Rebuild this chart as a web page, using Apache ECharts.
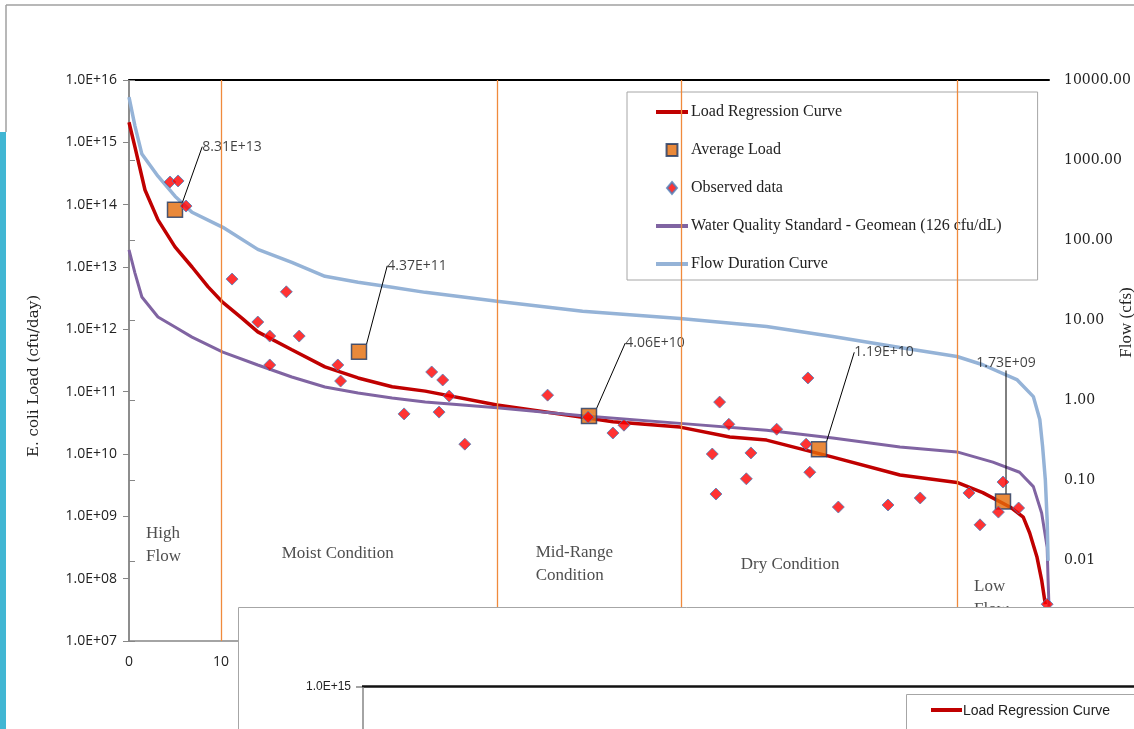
<!DOCTYPE html>
<html>
<head>
<meta charset="utf-8">
<script src="https://cdn.jsdelivr.net/npm/echarts@6/dist/echarts.min.js"></script>
<style>
  html, body { margin: 0; padding: 0; background: #fff; }
  #chart { width: 1134px; height: 729px; }
</style>
</head>
<body>
<div id="chart"></div>
<script>
// ---------------- data ----------------
const xRegression = [0, 0.65, 1.74, 3.15, 5.0, 6.85, 8.6, 10.2, 12.3, 14.0, 17.7, 21.3, 24.9, 28.6, 32.2, 40, 49.3, 52.6, 59.9, 65.3, 69.3, 76.5, 83.8, 90, 92.8, 95.8, 97.2, 97.9, 98.7, 99.2, 99.6];
const loadRegression = [2.1e15, 8.4e14, 1.72e14, 5.7e13, 2.1e13, 1.0e13, 4.8e12, 2.7e12, 1.5e12, 9.1e11, 4.7e11, 2.5e11, 1.66e11, 1.2e11, 1.02e11, 6.1e10, 3.9e10, 3.3e10, 2.7e10, 1.87e10, 1.67e10, 8.9e9, 4.6e9, 3.5e9, 2.4e9, 1.4e9, 9.7e8, 5.4e8, 2.2e8, 9.5e7, 3.9e7];

const xWqs = [0, 0.65, 1.4, 3.15, 5.0, 6.85, 10.2, 14.0, 17.7, 21.3, 24.9, 28.6, 32.2, 40, 49.3, 59.9, 69.3, 76.5, 83.8, 90, 93.9, 96.8, 98.3, 99.2, 99.8, 99.9, 100];
const wqsLoad = [1.88e13, 8.0e12, 3.3e12, 1.58e12, 1.09e12, 7.5e11, 4.3e11, 2.68e11, 1.72e11, 1.19e11, 9.5e10, 7.9e10, 6.8e10, 5.5e10, 4.1e10, 3.1e10, 2.4e10, 1.8e10, 1.29e10, 1.08e10, 7.4e9, 5.1e9, 3.0e9, 1.13e9, 3.2e8, 9.5e7, 3.6e7];

const xFlow = [0, 0.65, 1.4, 3.15, 5.0, 6.85, 10.2, 14.0, 17.7, 21.3, 24.9, 28.6, 32.2, 40, 49.3, 59.9, 69.3, 76.5, 83.8, 90, 92.8, 96.5, 98.3, 99.0, 99.3, 99.6, 99.8, 99.9];
const flowCfs = [6100, 2660, 1190, 630, 355, 224, 145, 77, 53, 35.5, 30, 25.9, 22.4, 17.3, 13, 10.6, 8.4, 6.3, 4.6, 3.55, 2.8, 1.83, 1.12, 0.58, 0.27, 0.103, 0.032, 0.01];

const xAverage = [5, 25, 50, 75, 95];
const averageLoad = [8.31e13, 4.37e11, 4.06e10, 1.19e10, 1.73e9];

const xObserved = [4.46, 5.33, 6.2, 11.2, 17.1, 14.0, 15.3, 18.5, 15.3, 22.7, 23.0, 32.9, 34.1, 34.8, 29.9, 33.7, 36.5, 45.5, 49.9, 52.6, 53.8, 64.2, 65.2, 63.4, 67.6, 67.1, 63.8, 70.4, 73.8, 73.6, 74.0, 77.1, 82.5, 86.0, 91.3, 92.5, 94.5, 95.0, 96.7, 99.8];
const observedLoad = [2.31e14, 2.4e14, 9.5e13, 6.4e12, 4.0e12, 1.31e12, 7.8e11, 7.8e11, 2.68e11, 2.68e11, 1.48e11, 2.07e11, 1.54e11, 8.5e10, 4.4e10, 4.7e10, 1.44e10, 8.8e10, 3.9e10, 2.17e10, 2.9e10, 6.8e10, 3.0e10, 1.0e10, 1.04e10, 4.0e9, 2.28e9, 2.5e10, 1.66e11, 1.44e10, 5.1e9, 1.41e9, 1.52e9, 1.97e9, 2.37e9, 7.3e8, 1.17e9, 3.55e9, 1.36e9, 3.9e7];

const zoneBounds = [10, 40, 60, 90];
const zoneNames = ['High\nFlow', 'Moist Condition', 'Mid-Range\nCondition', 'Dry Condition', 'Low\nFlow'];
const zoneLabelX = [1.85, 16.6, 44.2, 66.5, 91.85];
const zoneLabelY = [3.5e8, 2.5e8, 1.72e8, 1.66e8, 4.9e7];

const seriesNames = ['Load Regression Curve', 'Average Load', 'Observed data', 'Water Quality Standard - Geomean (126 cfu/dL)', 'Flow Duration Curve'];

// ---------------- layout constants ----------------
const avgLabelOffset = [[57, -63], [58, -86], [66, -73], [65, -97], [3, -138]];

function zip(xs, ys) { return xs.map((x, i) => [x, ys[i]]); }
function expLabel(v, digits) {
  const e = Math.floor(Math.log10(v) + 1e-9);
  const m = v / Math.pow(10, e);
  const es = (e < 0 ? '-' : '+') + String(Math.abs(e)).padStart(2, '0');
  return m.toFixed(digits) + 'E' + es;
}

const serif = 'Liberation Serif';
const sans = 'Open Sans';
const axisGray = '#868686';
const lineIcon = 'path://M0,0H32V4H0Z';

const chart = echarts.init(document.getElementById('chart'), null, { renderer: 'canvas' });
chart.setOption({
  animation: false,
  backgroundColor: '#fff',
  grid: { left: 129, right: 85, top: 80, bottom: 88, containLabel: false, outerBoundsMode: 'none' },
  xAxis: [{
    type: 'value', min: 0, max: 100, interval: 10,
    axisLine: { lineStyle: { color: axisGray, width: 1.5 } },
    axisTick: { show: false },
    splitLine: { show: false },
    axisLabel: { color: '#222', fontFamily: sans, fontSize: 14, margin: 14 }
  }, {
    type: 'value', min: 0, max: 100, position: 'top',
    axisLine: { lineStyle: { color: '#000', width: 2 } },
    axisTick: { show: false }, axisLabel: { show: false }, splitLine: { show: false }
  }],
  yAxis: [{
    type: 'log', logBase: 10, min: 1e7, max: 1e16,
    name: 'E. coli Load (cfu/day)', nameLocation: 'middle', nameGap: 87, nameRotate: 90, nameMoveOverlap: false,
    nameTextStyle: { fontFamily: 'DejaVu Serif', fontSize: 15, color: '#222', padding: [0, 31, 0, 0] },
    axisLine: { show: true, lineStyle: { color: axisGray, width: 1.5 } },
    axisTick: { show: true, length: 6, lineStyle: { color: axisGray } },
    splitLine: { show: false }, minorSplitLine: { show: false },
    axisLabel: { color: '#222', fontFamily: sans, fontSize: 14, margin: 12, formatter: v => expLabel(v, 1) }
  }, {
    type: 'log', logBase: 10, min: 0.001, max: 10000, position: 'right',
    name: 'Flow (cfs)', nameLocation: 'middle', nameGap: 69, nameRotate: 90, nameMoveOverlap: false,
    nameTextStyle: { fontFamily: serif, fontSize: 17, color: '#222', padding: [0, 0, 0, 76] },
    axisLine: { show: true, lineStyle: { color: axisGray, width: 1.5 } },
    axisTick: { show: true, length: 6, lineStyle: { color: axisGray } },
    splitLine: { show: false },
    axisLabel: { color: '#222', fontFamily: 'DejaVu Serif', fontSize: 14, margin: 15,
      formatter: v => Math.pow(10, Math.round(Math.log10(v))).toFixed(2) }
  }],
  legend: {
    orient: 'vertical', left: 627, top: 92,
    data: [
      { name: seriesNames[0], icon: lineIcon },
      { name: seriesNames[1], icon: 'path://M0,0H10V11H0Z' },
      { name: seriesNames[2], icon: 'path://M5,0L10,6L5,12L0,6Z' },
      { name: seriesNames[3], icon: lineIcon },
      { name: seriesNames[4], icon: lineIcon }
    ],
    itemWidth: 32, itemHeight: 12, itemGap: 22,
    padding: [12, 36, 8, 29],
    borderColor: '#a6a6a6', borderWidth: 1, backgroundColor: 'transparent',
    textStyle: { fontFamily: serif, fontSize: 16, color: '#222', padding: [0, 0, 0, -2] },
    selectedMode: false
  },
  series: [{
    name: seriesNames[0], type: 'line', yAxisIndex: 0, z: 2,
    data: zip(xRegression, loadRegression), symbol: 'none', smooth: false,
    lineStyle: { color: '#C00000', width: 3.5 }, itemStyle: { color: '#C00000' },
    markLine: {
      silent: true, symbol: 'none', label: { show: false },
      lineStyle: { color: '#F08A3C', width: 1.3, type: 'solid' },
      data: zoneBounds.map(x => ({ xAxis: x }))
    }
  }, {
    name: seriesNames[3], type: 'line', yAxisIndex: 0, z: 3,
    data: zip(xWqs, wqsLoad), symbol: 'none',
    lineStyle: { color: '#8064A2', width: 3 }, itemStyle: { color: '#8064A2' }
  }, {
    name: seriesNames[4], type: 'line', yAxisIndex: 1, z: 3,
    data: zip(xFlow, flowCfs), symbol: 'none',
    lineStyle: { color: '#95B3D7', width: 3.5 }, itemStyle: { color: '#95B3D7' }
  }, {
    name: seriesNames[1], type: 'scatter', yAxisIndex: 0, z: 4,
    data: zip(xAverage, averageLoad), symbol: 'rect', symbolSize: 15,
    itemStyle: { color: '#E36C09', borderColor: '#1F3864', borderWidth: 1.5 },
    label: {
      show: true, position: 'inside', color: '#111', fontFamily: sans, fontSize: 14,
      formatter: p => expLabel(p.value[1], 2)
    },
    labelLine: { show: true, lineStyle: { color: '#000', width: 1 } },
    labelLayout: p => ({ dx: avgLabelOffset[p.dataIndex][0], dy: avgLabelOffset[p.dataIndex][1] })
  }, {
    name: seriesNames[2], type: 'scatter', yAxisIndex: 0, z: 5,
    data: zip(xObserved, observedLoad), symbol: 'diamond', symbolSize: 12,
    itemStyle: { color: '#FF0000', borderColor: '#4F81BD', borderWidth: 1 }
  }, {
    name: 'zones', type: 'scatter', yAxisIndex: 0, silent: true, z: 6,
    data: zoneNames.map((n, i) => ({ value: [zoneLabelX[i], zoneLabelY[i]], name: n })),
    symbolSize: 0,
    label: { show: true, position: 'right', distance: 0, align: 'left', verticalAlign: 'middle',
      formatter: p => p.name, fontFamily: serif, fontSize: 17, lineHeight: 23, color: '#222' }
  }],
  graphic: [
    { type: 'line', z: 50, shape: { x1: 6, y1: 5, x2: 1134, y2: 5 }, style: { stroke: '#a0a0a0', lineWidth: 1.5 } },
    { type: 'line', z: 50, shape: { x1: 6, y1: 5, x2: 6, y2: 132 }, style: { stroke: '#a0a0a0', lineWidth: 1.5 } },
    { type: 'rect', z: 50, shape: { x: 0, y: 132, width: 6, height: 600 }, style: { fill: '#41B6D3' } },
    { type: 'rect', z: 100, shape: { x: 238.5, y: 607.5, width: 920, height: 140 }, style: { fill: '#fff', stroke: '#a6a6a6', lineWidth: 1 } },
    { type: 'text', z: 101, style: { x: 351, y: 687, text: '1.0E+15', align: 'right', verticalAlign: 'middle', fontFamily: 'Liberation Sans Narrow, Liberation Sans', fontSize: 12, fill: '#222' } },
    { type: 'line', z: 101, shape: { x1: 356, y1: 687, x2: 362, y2: 687 }, style: { stroke: axisGray, lineWidth: 1.5 } },
    { type: 'line', z: 101, shape: { x1: 362, y1: 686.5, x2: 1134, y2: 686.5 }, style: { stroke: '#111', lineWidth: 2.5 } },
    { type: 'line', z: 101, shape: { x1: 363, y1: 687, x2: 363, y2: 729 }, style: { stroke: axisGray, lineWidth: 1.5 } },
    { type: 'rect', z: 101, shape: { x: 906.5, y: 694.5, width: 300, height: 80 }, style: { fill: '#fff', stroke: '#a6a6a6', lineWidth: 1 } },
    { type: 'line', z: 102, shape: { x1: 931, y1: 710, x2: 962, y2: 710 }, style: { stroke: '#C00000', lineWidth: 4 } },
    { type: 'text', z: 102, style: { x: 963, y: 711, text: 'Load Regression Curve', align: 'left', verticalAlign: 'middle', fontFamily: 'Liberation Sans Narrow, Liberation Sans', fontSize: 14, fill: '#222' } }
  ]
});
</script>
</body>
</html>
